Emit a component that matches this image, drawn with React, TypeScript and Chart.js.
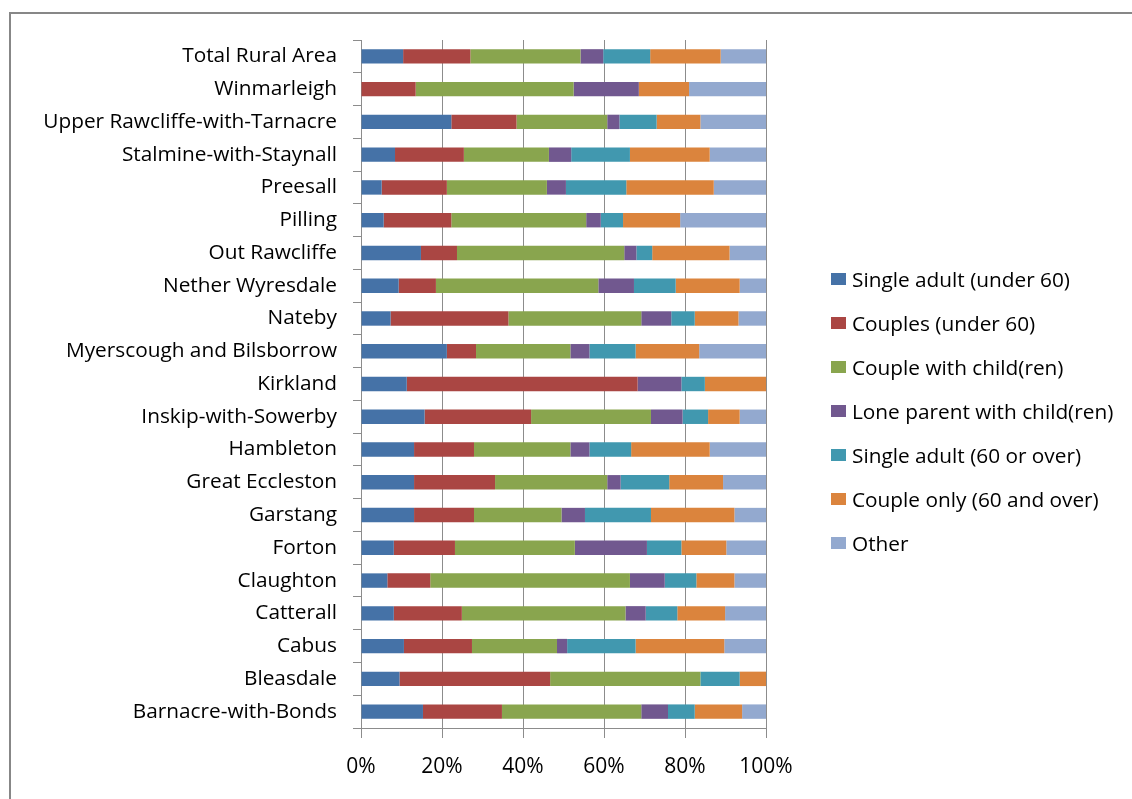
import React, { useEffect, useRef } from "react";
import { Chart, registerables } from "chart.js";

Chart.register(...registerables);

// Parishes, listed top to bottom
const parishes = [
  "Total Rural Area",
  "Winmarleigh",
  "Upper Rawcliffe-with-Tarnacre",
  "Stalmine-with-Staynall",
  "Preesall",
  "Pilling",
  "Out Rawcliffe",
  "Nether Wyresdale",
  "Nateby",
  "Myerscough and Bilsborrow",
  "Kirkland",
  "Inskip-with-Sowerby",
  "Hambleton",
  "Great Eccleston",
  "Garstang",
  "Forton",
  "Claughton",
  "Catterall",
  "Cabus",
  "Bleasdale",
  "Barnacre-with-Bonds",
];

// Household composition shares (% of households)
const singleAdultUnder60 = [10.4, 0, 22.3, 8.4, 5.1, 5.6, 14.8, 9.3, 7.3, 21.2, 11.3, 15.7, 13.1, 13.1, 13.1, 8.1, 6.5, 8.1, 10.6, 9.5, 15.3];
const couplesUnder60 = [16.6, 13.5, 16.1, 17.0, 16.1, 16.7, 8.9, 9.2, 29.1, 7.2, 57.0, 26.3, 14.8, 20.0, 14.8, 15.1, 10.6, 16.8, 16.8, 37.2, 19.5];
const coupleWithChildren = [27.2, 39.0, 22.4, 21.0, 24.7, 33.3, 41.3, 40.1, 32.8, 23.3, 0, 29.6, 23.8, 27.7, 21.6, 29.6, 49.3, 40.4, 21.0, 37.1, 34.4];
const loneParentWithChildren = [5.6, 16.1, 3.0, 5.5, 4.7, 3.6, 3.0, 8.8, 7.4, 4.7, 10.8, 7.8, 4.7, 3.3, 5.8, 17.8, 8.6, 5.0, 2.5, 0, 6.6];
const singleAdult60Over = [11.6, 0, 9.2, 14.5, 14.9, 5.5, 3.9, 10.3, 5.8, 11.4, 5.8, 6.3, 10.3, 12.0, 16.3, 8.5, 7.8, 7.8, 16.9, 9.7, 6.6];
const coupleOnly60Over = [17.4, 12.4, 10.8, 19.7, 21.6, 14.1, 19.1, 15.8, 10.8, 15.7, 15.1, 7.8, 19.4, 13.3, 20.6, 11.1, 9.4, 11.8, 21.9, 6.5, 11.7];
const otherHouseholds = [11.2, 19.0, 16.2, 13.9, 12.9, 21.2, 9.0, 6.5, 6.8, 16.5, 0, 6.5, 13.9, 10.6, 7.8, 9.8, 7.8, 10.1, 10.3, 0, 5.9];

const seriesNames = [
  "Single adult (under 60)",
  "Couples (under 60)",
  "Couple with child(ren)",
  "Lone parent with child(ren)",
  "Single adult (60 or over)",
  "Couple only (60 and over)",
  "Other",
];
const seriesValues = [
  singleAdultUnder60,
  couplesUnder60,
  coupleWithChildren,
  loneParentWithChildren,
  singleAdult60Over,
  coupleOnly60Over,
  otherHouseholds,
];
const seriesColors = ["#4572A7", "#AA4643", "#89A54E", "#71588F", "#4198AF", "#DB843D", "#93A9CF"];

const xTicks = [0, 20, 40, 60, 80, 100];

const FONT = "'Open Sans', Lato, sans-serif";
const W = 1132;
const H = 799;
const AXIS_GREY = "#8c8c8c";

export default function App() {
  const canvasRef = useRef<HTMLCanvasElement | null>(null);

  useEffect(() => {
    const canvas = canvasRef.current;
    if (!canvas) return;
    const chart = new Chart(canvas, {
      type: "bar",
      data: {
        labels: parishes,
        datasets: seriesNames.map((name, i) => ({
          label: name,
          data: seriesValues[i],
          backgroundColor: seriesColors[i],
          borderWidth: 0,
          barPercentage: 0.44,
          categoryPercentage: 1,
        })),
      },
      options: {
        indexAxis: "y",
        responsive: false,
        animation: false,
        devicePixelRatio: 1,
        layout: { padding: { left: 0, top: 40, right: W - 766, bottom: 0 } },
        plugins: {
          legend: { display: false },
          tooltip: { enabled: false },
        },
        scales: {
          x: {
            stacked: true,
            min: 0,
            max: 100,
            afterBuildTicks: (scale: any) => {
              scale.ticks = xTicks.map((v) => ({ value: v }));
            },
            afterFit: (scale: any) => {
              scale.height = H - 728;
            },
            ticks: {
              callback: (v: any) => `${v}%`,
              color: "#000",
              font: { family: FONT, size: 21 },
              padding: 16,
            },
            grid: {
              color: AXIS_GREY,
              lineWidth: 1,
              drawTicks: true,
              tickLength: 10,
            },
            border: { color: AXIS_GREY, width: 1 },
          },
          y: {
            stacked: true,
            afterFit: (scale: any) => {
              scale.width = 361;
            },
            ticks: {
              color: "#000",
              font: { family: FONT, size: 20.8 },
              padding: 16,
              autoSkip: false,
            },
            grid: {
              color: AXIS_GREY,
              lineWidth: 1,
              drawOnChartArea: false,
              drawTicks: true,
              tickLength: 8,
              offset: true,
            },
            border: { color: AXIS_GREY, width: 1 },
          },
        },
      },
    });
    return () => chart.destroy();
  }, []);

  return (
    <div
      style={{
        position: "fixed",
        left: 0,
        top: 0,
        width: "100vw",
        height: "100vh",
        overflow: "hidden",
        background: "#fff",
      }}
    >
      <div
        style={{
          position: "absolute",
          left: 9,
          top: 12,
          width: 1300,
          height: 1000,
          border: "2px solid #878787",
          boxSizing: "border-box",
        }}
      />
      <canvas
        ref={canvasRef}
        width={W}
        height={H}
        style={{ position: "absolute", left: 0, top: 0, width: W, height: H, display: "block" }}
      />
      <div style={{ position: "absolute", left: 831, top: 257.4 }}>
        {seriesNames.map((name, i) => (
          <div
            key={name}
            style={{
              height: 43.9,
              display: "flex",
              alignItems: "center",
              fontFamily: FONT,
              fontSize: 20.8,
              color: "#000",
              whiteSpace: "nowrap",
            }}
          >
            <span
              style={{
                display: "inline-block",
                width: 15,
                height: 12,
                background: seriesColors[i],
                marginRight: 6,
              }}
            />
            <span>{name}</span>
          </div>
        ))}
      </div>
    </div>
  );
}
